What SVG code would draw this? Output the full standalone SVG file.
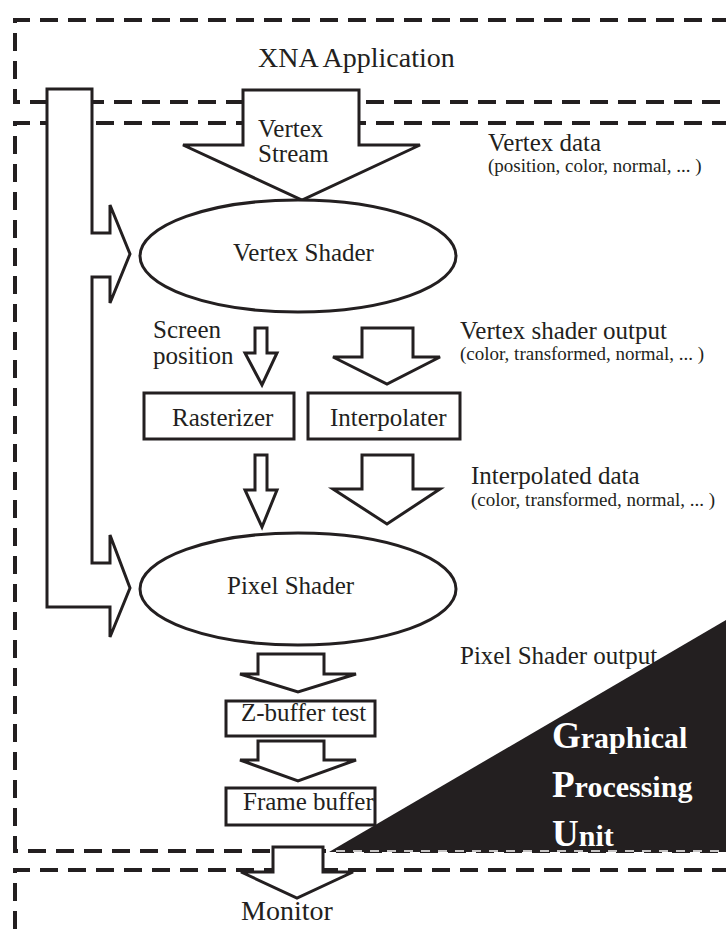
<svg xmlns="http://www.w3.org/2000/svg" width="726" height="935" viewBox="0 0 726 935">
  <style>
    .frame { fill: none; stroke: #231f20; stroke-width: 4; stroke-dasharray: 18 10; }
    .shape { fill: #ffffff; stroke: #231f20; stroke-width: 3; stroke-linejoin: miter; }
    .label { font-family: "Liberation Serif", "Times New Roman", serif; font-size: 25px; fill: #231f20; }
    .small { font-family: "Liberation Serif", "Times New Roman", serif; font-size: 19px; fill: #231f20; }
    .gpu { font-family: "Liberation Serif", "Times New Roman", serif; font-weight: bold; fill: #ffffff; }
    .cap { font-size: 37px; }
    .low { font-size: 30px; }
  </style>

  <rect x="0" y="0" width="726" height="935" fill="#ffffff"/>

  <!-- dashed container frames -->
  <g id="xna-application">
    <path class="frame" d="M730 20 H15 V102 H730"/>
    <text class="label" x="258" y="67" style="font-size:28px">XNA Application</text>
  </g>

  <g id="gpu">
    <path class="frame" d="M730 123 H15 V851 H730"/>
    <polygon points="329,852 726,620 726,852" fill="#231f20"/>
    <line x1="336" y1="851" x2="726" y2="851" stroke="#c8c6c6" stroke-width="2" stroke-dasharray="9 8"/>
    <text class="gpu" x="552" y="748"><tspan class="cap">G</tspan><tspan class="low">raphical</tspan></text>
    <text class="gpu" x="552" y="797"><tspan class="cap">P</tspan><tspan class="low">rocessing</tspan></text>
    <text class="gpu" x="552" y="846"><tspan class="cap">U</tspan><tspan class="low">nit</tspan></text>
  </g>

  <g id="monitor">
    <path class="frame" d="M730 870 H15 V940"/>
  </g>

  <!-- block-arrow connectors -->
  <g id="connectors">
    <!-- application parameters feeding both shaders -->
    <polygon class="shape" points="47,89 92,89 92,233 110,233 110,205 130,254 110,303 110,277 92,277 92,563 110,563 110,535 130,588 110,637 110,607 47,607"/>
    <!-- vertex stream -->
    <polygon class="shape" points="243,90 359,90 359,145 420,145 302,200 183,145 243,145"/>
    <!-- screen position -->
    <polygon class="shape" points="255,328 267,328 267,353 277,353 262,385 245,353 255,353"/>
    <!-- vertex shader output -->
    <polygon class="shape" points="362,328 413,328 413,357 440,357 387,384 333,357 362,357"/>
    <!-- rasterizer to pixel shader -->
    <polygon class="shape" points="255,455 267,455 267,490 277,490 262,527 245,490 255,490"/>
    <!-- interpolated data -->
    <polygon class="shape" points="362,455 413,455 413,489 440,489 387,524 333,489 362,489"/>
    <!-- pixel shader output -->
    <polygon class="shape" points="258,654 324,654 324,674 356,674 298,692 240,674 258,674"/>
    <!-- depth test to frame buffer -->
    <polygon class="shape" points="258,741 324,741 324,760 356,760 298,781 240,760 258,760"/>
    <!-- frame buffer to monitor -->
    <polygon class="shape" points="273,847 323,847 323,872 353,872 297,898 241,872 273,872"/>
  </g>

  <g id="vertex-stream-label">
    <text class="label" x="258" y="137">Vertex</text>
    <text class="label" x="258" y="162">Stream</text>
  </g>

  <g id="vertex-shader">
    <ellipse class="shape" cx="298" cy="256" rx="158" ry="56"/>
    <text class="label" x="233" y="261">Vertex Shader</text>
  </g>

  <g id="rasterizer">
    <rect class="shape" x="144" y="393" width="150" height="46"/>
    <text class="label" x="172" y="426">Rasterizer</text>
  </g>

  <g id="interpolater">
    <rect class="shape" x="308" y="393" width="152" height="46"/>
    <text class="label" x="330" y="426">Interpolater</text>
  </g>

  <g id="pixel-shader">
    <ellipse class="shape" cx="298" cy="589" rx="158" ry="56"/>
    <text class="label" x="227" y="594">Pixel Shader</text>
  </g>

  <g id="z-buffer-test">
    <rect class="shape" x="226" y="701" width="149" height="35"/>
    <text class="label" x="241" y="721">Z-buffer test</text>
  </g>

  <g id="frame-buffer">
    <rect class="shape" x="226" y="788" width="149" height="37"/>
    <text class="label" x="243" y="810">Frame buffer</text>
  </g>

  <!-- annotations -->
  <g id="annotations">
    <text class="label" x="488" y="151">Vertex data</text>
    <text class="small" x="488" y="172">(position, color, normal, ... )</text>
    <text class="label" x="153" y="338">Screen</text>
    <text class="label" x="153" y="364">position</text>
    <text class="label" x="460" y="339">Vertex shader output</text>
    <text class="small" x="460" y="360">(color, transformed, normal, ... )</text>
    <text class="label" x="471" y="484">Interpolated data</text>
    <text class="small" x="471" y="506">(color, transformed, normal, ... )</text>
    <text class="label" x="460" y="664">Pixel Shader output</text>
    <text class="label" x="241" y="920" style="font-size:28px">Monitor</text>
  </g>
</svg>
